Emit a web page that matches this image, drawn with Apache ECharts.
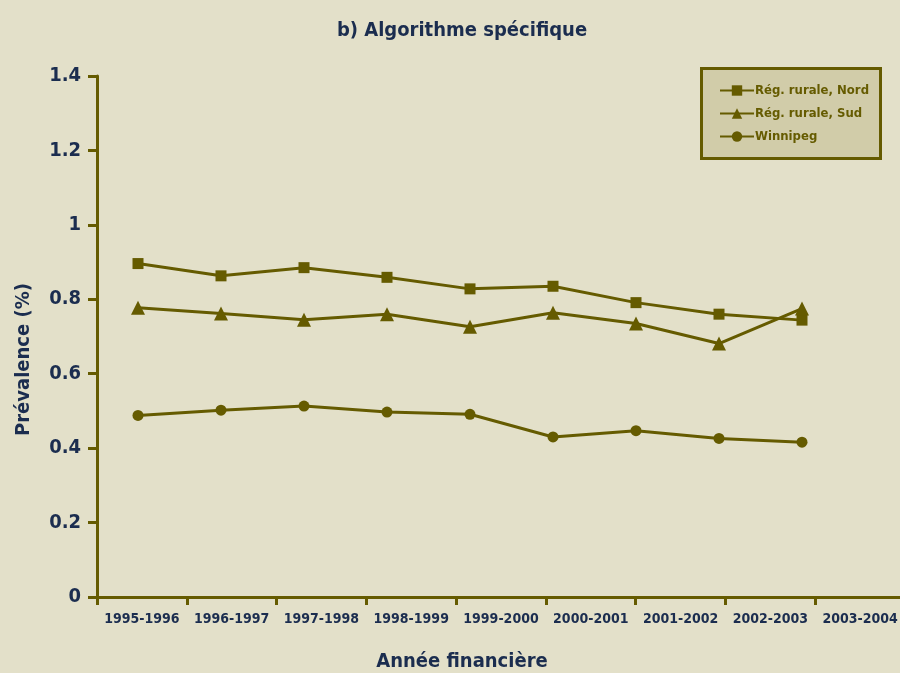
<!DOCTYPE html>
<html>
<head>
<meta charset="utf-8">
<script src="https://cdn.jsdelivr.net/npm/echarts@6/dist/echarts.min.js"></script>
<style>
    html, body {margin: 0; padding: 0; background: #E3E0C9;}
    #chart {width: 900px; height: 673px;}
</style>
</head>
<body>
<div id="chart"></div>
<script>
// fiscal years shown on the axis
var years = ['1995-1996', '1996-1997', '1997-1998', '1998-1999', '1999-2000',
    '2000-2001', '2001-2002', '2002-2003', '2003-2004'];
// the plotted points (9 values each)
var pointYears = years.slice(0, 9);
var nordVals = [0.896, 0.863, 0.885, 0.859, 0.828, 0.835, 0.791, 0.760, 0.744];
var sudVals = [0.777, 0.762, 0.745, 0.760, 0.726, 0.764, 0.735, 0.681, 0.775];
var winnipegVals = [0.488, 0.502, 0.513, 0.497, 0.491, 0.430, 0.447, 0.426, 0.416];

var olive = '#655B00';
var navy = '#1B2D4F';
var font = '"Liberation Sans Narrow", "DejaVu Sans Condensed", sans-serif';

var chart = echarts.init(document.getElementById('chart'));
chart.setOption({
    backgroundColor: '#E3E0C9',
    animation: false,
    title: {
        text: 'b) Algorithme spécifique',
        left: 457,
        textAlign: 'center',
        top: 16,
        textStyle: {color: navy, fontFamily: font, fontSize: 20, fontWeight: 'bold'}
    },
    // legend frame
    graphic: [{
        type: 'rect',
        left: 700,
        top: 67,
        shape: {width: 179, height: 90},
        style: {fill: '#D1CCA9', stroke: olive, lineWidth: 3},
        z: 0
    }],
    legend: {
        orient: 'vertical',
        left: 714,
        top: 79,
        itemWidth: 34,
        itemHeight: 13,
        itemGap: 10,
        textStyle: {color: olive, fontFamily: font, fontSize: 13, fontWeight: 'bold', padding: [0, 0, 0, -4]},
        data: ['Rég. rurale, Nord', 'Rég. rurale, Sud', 'Winnipeg']
    },
    grid: [
        {left: 97, right: -5, top: 76, bottom: 76, outerBoundsMode: 'none'},
        {left: 138, width: 664, top: 76, bottom: 76, outerBoundsMode: 'none'}
    ],
    xAxis: [
        {
            type: 'category',
            gridIndex: 0,
            data: years,
            boundaryGap: true,
            name: 'Année financière',
            nameLocation: 'middle',
            nameGap: 55,
            nameTextStyle: {color: navy, fontFamily: font, fontSize: 20, fontWeight: 'bold', padding: [0, 78, 0, 0]},
            axisLine: {lineStyle: {color: olive, width: 3}},
            axisTick: {show: true, length: 8, lineStyle: {color: olive, width: 3}},
            axisLabel: {color: navy, fontFamily: font, fontSize: 14, fontWeight: 'bold', margin: 15, interval: 0},
            splitLine: {show: false}
        },
        {
            type: 'category',
            gridIndex: 1,
            data: pointYears,
            boundaryGap: false,
            show: false
        }
    ],
    yAxis: [
        {
            type: 'value',
            gridIndex: 0,
            min: 0,
            max: 1.4,
            interval: 0.2,
            name: 'Prévalence (%)',
            nameLocation: 'middle',
            nameGap: 63,
            nameTextStyle: {color: navy, fontFamily: font, fontSize: 20, fontWeight: 'bold', padding: [0, 46, 0, 0]},
            axisLine: {show: true, lineStyle: {color: olive, width: 3}},
            axisTick: {show: true, length: 9, lineStyle: {color: olive, width: 3}},
            axisLabel: {
                color: navy, fontFamily: font, fontSize: 20, fontWeight: 'bold', margin: 16,
                formatter: function (v) { return String(+v.toFixed(1)); }
            },
            splitLine: {show: false}
        },
        {
            type: 'value',
            gridIndex: 1,
            min: 0,
            max: 1.4,
            show: false
        }
    ],
    series: [
        {
            name: 'Rég. rurale, Nord',
            type: 'line',
            xAxisIndex: 1,
            yAxisIndex: 1,
            data: nordVals,
            symbol: 'rect',
            symbolSize: 11,
            lineStyle: {color: olive, width: 3},
            itemStyle: {color: olive}
        },
        {
            name: 'Rég. rurale, Sud',
            type: 'line',
            xAxisIndex: 1,
            yAxisIndex: 1,
            data: sudVals,
            symbol: 'triangle',
            symbolSize: 14,
            lineStyle: {color: olive, width: 3},
            itemStyle: {color: olive}
        },
        {
            name: 'Winnipeg',
            type: 'line',
            xAxisIndex: 1,
            yAxisIndex: 1,
            data: winnipegVals,
            symbol: 'circle',
            symbolSize: 11,
            lineStyle: {color: olive, width: 3},
            itemStyle: {color: olive}
        }
    ]
});
</script>
</body>
</html>
